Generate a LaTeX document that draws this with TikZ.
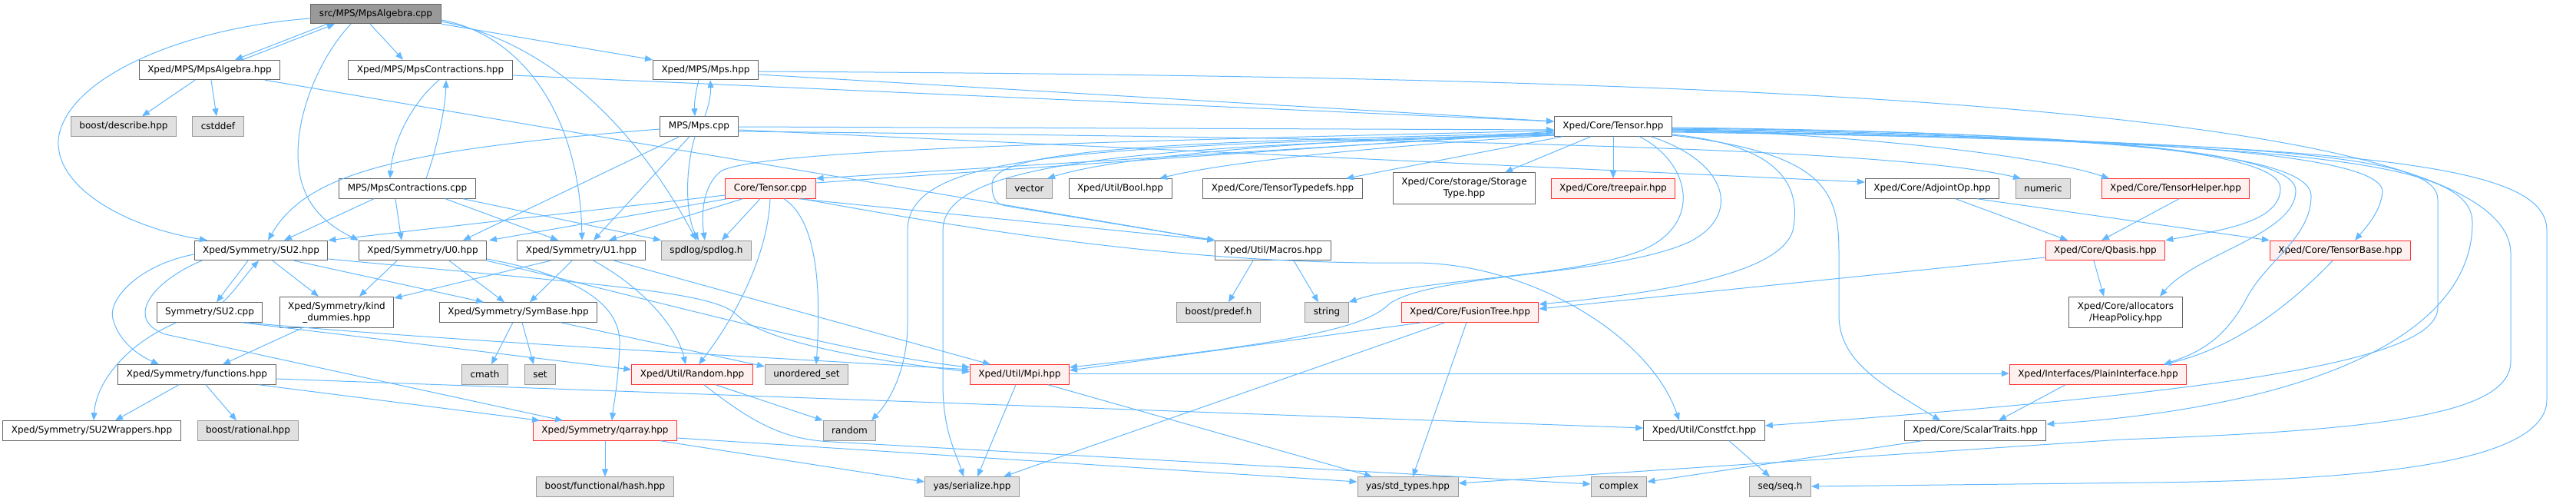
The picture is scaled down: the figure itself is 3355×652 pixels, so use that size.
\documentclass[tikz,border=0pt]{standalone}
\usepackage{fontspec}
\setmainfont{DejaVu Sans}
\usepackage{tikz}
\usetikzlibrary{arrows.meta}
\usepackage{xcolor}
\definecolor{edgeblue}{HTML}{63B8FF}
\definecolor{boxline}{HTML}{666666}
\definecolor{sysline}{HTML}{999999}
\definecolor{sysfill}{HTML}{E0E0E0}
\definecolor{badfill}{HTML}{FFF0F0}
\definecolor{badline}{HTML}{FF3030}
\definecolor{rootfill}{HTML}{999999}

\begin{document}
\begin{tikzpicture}[>={Triangle[length=10pt,width=8pt]},x=1pt,y=-1pt,
  file/.style={draw=boxline,fill=white,line width=1pt,inner xsep=11pt,inner ysep=0pt,
    minimum height=25.5pt,align=center,font=\fontsize{12}{15}\selectfont},
  sys/.style={file,draw=sysline,fill=sysfill},
  bad/.style={file,draw=badline,fill=badfill},
  hi/.style={file,fill=rootfill},
  tall/.style={minimum height=40.5pt},
  dep/.style={->,draw=edgeblue,line width=1pt}]
\useasboundingbox (0,0) rectangle (3355,652);

\node[hi] (alg) at (489.5,18) {src/MPS/MpsAlgebra.cpp};
\node[file] (algh) at (273,91) {Xped/MPS/MpsAlgebra.hpp};
\node[file] (conh) at (560.5,91) {Xped/MPS/MpsContractions.hpp};
\node[file] (mpsh) at (919,91) {Xped/MPS/Mps.hpp};
\node[sys] (desc) at (161,164.5) {boost/describe.hpp};
\node[sys] (cdef) at (284,164.5) {cstddef};
\node[file] (mpsc) at (910.5,164.5) {MPS/Mps.cpp};
\node[file] (tens) at (2101,164.5) {Xped/Core/Tensor.hpp};
\node[file] (conc) at (530.5,245.5) {MPS/MpsContractions.cpp};
\node[bad] (tenc) at (1003.5,245.5) {Core/Tensor.cpp};
\node[sys] (vec) at (1340.5,245.5) {vector};
\node[file] (boolh) at (1459,245.5) {Xped/Util/Bool.hpp};
\node[file] (tdef) at (1670.5,245.5) {Xped/Core/TensorTypedefs.hpp};
\node[file,tall] (stor) at (1907,245) {Xped/Core/storage/Storage\\Type.hpp};
\node[bad] (tpair) at (2101,245.5) {Xped/Core/treepair.hpp};
\node[file] (adj) at (2516.5,245.5) {Xped/Core/AdjointOp.hpp};
\node[sys] (num) at (2661,245.5) {numeric};
\node[bad] (help) at (2833.5,245.5) {Xped/Core/TensorHelper.hpp};
\node[file] (su2h) at (340,326) {Xped/Symmetry/SU2.hpp};
\node[file] (u0h) at (550.5,326) {Xped/Symmetry/U0.hpp};
\node[file] (u1h) at (757,326) {Xped/Symmetry/U1.hpp};
\node[sys] (spd) at (920,326) {spdlog/spdlog.h};
\node[file] (macr) at (1658,326) {Xped/Util/Macros.hpp};
\node[bad] (qb) at (2742,326) {Xped/Core/Qbasis.hpp};
\node[bad] (tb) at (3048,326) {Xped/Core/TensorBase.hpp};
\node[file] (su2c) at (273,406.5) {Symmetry/SU2.cpp};
\node[file,tall] (kind) at (438.5,406.5) {Xped/Symmetry/kind\\\_dummies.hpp};
\node[file] (symb) at (675,406.5) {Xped/Symmetry/SymBase.hpp};
\node[sys] (pred) at (1587,406.5) {boost/predef.h};
\node[sys] (str) at (1728,406.5) {string};
\node[bad] (fus) at (1914.5,406.5) {Xped/Core/FusionTree.hpp};
\node[file,tall] (heap) at (2768.5,406.5) {Xped/Core/allocators\\/HeapPolicy.hpp};
\node[file] (func) at (256.5,487.5) {Xped/Symmetry/functions.hpp};
\node[sys] (cmath) at (631.5,487.5) {cmath};
\node[sys] (setn) at (703.5,487.5) {set};
\node[bad] (rndh) at (901.5,487.5) {Xped/Util/Random.hpp};
\node[sys] (uset) at (1050.5,487.5) {unordered\_set};
\node[bad] (mpi) at (1328,487.5) {Xped/Util/Mpi.hpp};
\node[bad] (plain) at (2732.5,487.5) {Xped/Interfaces/PlainInterface.hpp};
\node[file] (wrap) at (119.5,560.5) {Xped/Symmetry/SU2Wrappers.hpp};
\node[sys] (rat) at (323,560.5) {boost/rational.hpp};
\node[bad] (qarr) at (788,560.5) {Xped/Symmetry/qarray.hpp};
\node[sys] (rnd) at (1106.5,560.5) {random};
\node[file] (cfct) at (2219.5,560.5) {Xped/Util/Constfct.hpp};
\node[file] (scal) at (2572.5,560.5) {Xped/Core/ScalarTraits.hpp};
\node[sys] (hash) at (788,633.5) {boost/functional/hash.hpp};
\node[sys] (ser) at (1266,633.5) {yas/serialize.hpp};
\node[sys] (stdt) at (1833.5,633.5) {yas/std\_types.hpp};
\node[sys] (cplx) at (2108.5,633.5) {complex};
\node[sys] (seq) at (2318.5,633.5) {seq/seq.h};

\draw[dep] (alg.south -| 426,0) -- (algh.north -| 306,0);
\draw[dep] (algh.north -| 316,0) -- (alg.south -| 436,0);
\draw[dep] (alg.south -| 482,0) -- (conh.north -| 525,0);
\draw[dep] (alg.south -| 575,0) -- (mpsh.north west);
\draw[dep] (alg.west |- 0,24) .. controls (250,35) and (95,95) .. (77,175) .. controls (65,240) and (160,295) .. (su2h.north -| 270,0);
\draw[dep] (alg.south -| 457,0) .. controls (420,70) and (388,140) .. (388,200) .. controls (388,260) and (420,290) .. (u0h.north -| 467,0);
\draw[dep] (alg.east |- 0,26) .. controls (680,45) and (755,150) .. (u1h.north -| 758,0);
\draw[dep] (alg.east |- 0,28) .. controls (700,50) and (820,150) .. (spd.north -| 907,0);
\draw[dep] (algh.south -| 254,0) -- (desc.north -| 185,0);
\draw[dep] (algh.south -| 275,0) -- (cdef.north -| 282,0);
\draw[dep] (algh.south -| 345,0) -- (macr.north west);
\draw[dep] (conh.south -| 572,0) .. controls (540,130) and (512,180) .. (conc.north -| 508,0);
\draw[dep] (conc.north -| 555,0) .. controls (570,190) and (580,140) .. (conh.south -| 581,0);
\draw[dep] (conh.east |- 0,98) -- (tens.west |- 0,158);
\draw[dep] (mpsh.south -| 910,0) .. controls (906,120) and (904,135) .. (mpsc.north -| 905,0);
\draw[dep] (mpsc.north -| 918,0) .. controls (924,135) and (926,120) .. (mpsh.south -| 925,0);
\draw[dep] (mpsh.east |- 0,97) -- (tens.west |- 0,158);
\draw[dep] (mpsh.east |- 0,93) .. controls (2200,100) and (3270,130) .. (3270,330) -- (3270,470) .. controls (3270,540) and (3100,560) .. (2763,572) -- (stdt.east |- 0,629);
\draw[dep] (mpsc.east |- 0,165) -- (tens.west |- 0,169);
\draw[dep] (mpsc.east |- 0,169) -- (adj.west |- 0,237);
\draw[dep] (mpsc.east |- 0,171) .. controls (1800,180) and (2450,190) .. (num.north -| 2632,0);
\draw[dep] (mpsc.west |- 0,168) .. controls (520,195) and (400,225) .. (su2h.north -| 349,0);
\draw[dep] (mpsc.south -| 885,0) -- (u0h.north -| 603,0);
\draw[dep] (mpsc.south -| 898,0) -- (u1h.north -| 773,0);
\draw[dep] (mpsc.south -| 905,0) .. controls (890,230) and (895,285) .. (spd.north -| 910,0);
\draw[dep] (conc.south -| 487,0) -- (su2h.north -| 370,0);
\draw[dep] (conc.south -| 515,0) -- (u0h.north -| 523,0);
\draw[dep] (conc.south -| 580,0) -- (u1h.north -| 727,0);
\draw[dep] (conc.south -| 603,0) -- (spd.north west);
\draw[dep] (tenc.east |- 0,238) -- (tens.west |- 0,171);
\draw[dep] (tens.west |- 0,173) -- (tenc.north east);
\draw[dep] (tenc.west |- 0,254) -- (su2h.north east);
\draw[dep] (tenc.south -| 947,0) -- (u0h.north -| 637,0);
\draw[dep] (tenc.south -| 967,0) -- (u1h.north -| 793,0);
\draw[dep] (tenc.south -| 990,0) -- (spd.north -| 940,0);
\draw[dep] (tenc.south -| 1003,0) .. controls (1000,330) and (960,410) .. (rndh.north -| 910,0);
\draw[dep] (tenc.south -| 1021,0) .. controls (1070,290) and (1068,400) .. (uset.north -| 1063,0);
\draw[dep] (tenc.south -| 1040,0) -- (macr.north west);
\draw[dep] (tenc.south -| 1045,0) .. controls (1350,315) and (1600,345) .. (1847,342) .. controls (2000,345) and (2150,440) .. (cfct.north -| 2187,0);
\draw[dep] (tens.west |- 0,170) .. controls (1400,185) and (1000,195) .. (940,222) .. controls (915,240) and (913,280) .. (spd.north -| 918,0);
\draw[dep] (tens.west |- 0,175) .. controls (1700,180) and (1450,205) .. (vec.north -| 1364,0);
\draw[dep] (tens.west |- 0,176) .. controls (1800,190) and (1600,210) .. (boolh.north -| 1510,0);
\draw[dep] (tens.south -| 2035,0) -- (tdef.north -| 1753,0);
\draw[dep] (tens.south -| 2072,0) -- (stor.north -| 1960,0);
\draw[dep] (tens.south) -- (tpair.north);
\draw[dep] (tens.west |- 0,173) .. controls (1500,185) and (1292,195) .. (1292,240) .. controls (1292,262) and (1300,266) .. (1310,268) -- (macr.north west);
\draw[dep] (tens.west |- 0,175) .. controls (1400,190) and (1182,200) .. (1182,300) -- (1182,420) .. controls (1182,480) and (1160,520) .. (rnd.north -| 1135,0);
\draw[dep] (tens.west |- 0,176) .. controls (1450,190) and (1228,215) .. (1228,300) -- (1228,500) .. controls (1228,560) and (1245,590) .. (ser.north -| 1255,0);
\draw[dep] (tens.east |- 0,168) .. controls (2400,175) and (2650,200) .. (help.north -| 2747,0);
\draw[dep] (tens.east |- 0,166) .. controls (2700,172) and (2970,195) .. (2970,245) .. controls (2970,290) and (2890,300) .. (qb.north east);
\draw[dep] (tens.east |- 0,167) .. controls (2750,172) and (2990,200) .. (2990,248) .. controls (2990,305) and (2860,330) .. (heap.north -| 2813,0);
\draw[dep] (tens.east |- 0,168) .. controls (2800,175) and (3010,205) .. (3010,255) .. controls (3010,310) and (2950,340) .. (2925,390) .. controls (2895,445) and (2860,460) .. (plain.north -| 2818,0);
\draw[dep] (tens.east |- 0,169) .. controls (2800,178) and (3105,200) .. (3103,250) .. controls (3100,275) and (3085,292) .. (tb.north -| 3067,0);
\draw[dep] (tens.east |- 0,170) .. controls (3000,185) and (3175,205) .. (3175,260) -- (3175,400) .. controls (3175,470) and (2900,510) .. (cfct.east |- 0,554);
\draw[dep] (tens.east |- 0,171) .. controls (3050,185) and (3220,215) .. (3220,290) .. controls (3220,440) and (3000,530) .. (scal.east |- 0,552);
\draw[dep] (tens.east |- 0,172) .. controls (3100,185) and (3317,215) .. (3317,300) -- (3317,520) .. controls (3317,600) and (3100,625) .. (2800,628) -- (seq.east |- 0,633);
\draw[dep] (tens.east |- 0,175) .. controls (2330,190) and (2345,250) .. (2335,300) .. controls (2320,350) and (2200,378) .. (fus.east |- 0,396);
\draw[dep] (tens.east |- 0,176) .. controls (2380,200) and (2395,250) .. (2395,330) -- (2395,410) .. controls (2395,470) and (2450,500) .. (scal.north -| 2527,0);
\draw[dep] (tens.south -| 2135,0) .. controls (2200,210) and (2220,290) .. (2140,325) .. controls (2050,362) and (1850,362) .. (str.north east);
\draw[dep] (tens.south -| 2150,0) .. controls (2250,210) and (2270,280) .. (2200,315) .. controls (2100,360) and (1870,355) .. (1810,395) .. controls (1780,425) and (1700,445) .. (mpi.east |- 0,478);
\draw[dep] (fus.south -| 1852,0) -- (mpi.east |- 0,482);
\draw[dep] (fus.south -| 1882,0) -- (ser.north -| 1307,0);
\draw[dep] (fus.south -| 1910,0) -- (stdt.north -| 1840,0);
\draw[dep] (macr.south -| 1632,0) -- (pred.north -| 1600,0);
\draw[dep] (macr.south -| 1685,0) -- (str.north -| 1717,0);
\draw[dep] (qb.west |- 0,335) -- (fus.east |- 0,402);
\draw[dep] (qb.south -| 2727,0) -- (heap.north -| 2740,0);
\draw[dep] (adj.south -| 2547,0) -- (qb.north -| 2693,0);
\draw[dep] (adj.south -| 2575,0) -- (tb.north west);
\draw[dep] (help.south -| 2838,0) -- (qb.north -| 2737,0);
\draw[dep] (tb.south -| 3038,0) .. controls (2970,410) and (2900,455) .. (plain.north -| 2818,0);
\draw[dep] (plain.south -| 2690,0) -- (scal.north -| 2603,0);
\draw[dep] (cfct.south -| 2252,0) -- (seq.north -| 2305,0);
\draw[dep] (scal.south -| 2503,0) -- (cplx.east |- 0,627);
\draw[dep] (mpi.east |- 0,486) -- (plain.west |- 0,486);
\draw[dep] (su2h.south -| 323,0) -- (su2c.north -| 282,0);
\draw[dep] (su2c.north -| 290,0) .. controls (305,380) and (322,355) .. (su2h.south -| 337,0);
\draw[dep] (su2h.south -| 355,0) -- (kind.north -| 415,0);
\draw[dep] (su2h.west |- 0,331) .. controls (180,345) and (140,390) .. (147,415) .. controls (155,445) and (180,462) .. (func.north -| 207,0);
\draw[dep] (su2h.south -| 263,0) .. controls (200,365) and (160,415) .. (215,435) -- (qarr.north -| 733,0);
\draw[dep] (su2h.south -| 383,0) -- (symb.north -| 630,0);
\draw[dep] (su2h.east |- 0,337) .. controls (800,372) and (930,380) .. (960,410) .. controls (990,440) and (1100,465) .. (mpi.west |- 0,484);
\draw[dep] (su2c.south -| 230,0) .. controls (160,450) and (125,500) .. (wrap.north -| 122,0);
\draw[dep] (su2c.south -| 315,0) -- (rndh.west |- 0,481);
\draw[dep] (su2c.south -| 320,0) .. controls (600,445) and (1000,465) .. (mpi.west |- 0,481);
\draw[dep] (kind.south -| 393,0) -- (func.north -| 290,0);
\draw[dep] (u0h.south -| 517,0) -- (kind.north -| 468,0);
\draw[dep] (u1h.south -| 717,0) -- (kind.east |- 0,388);
\draw[dep] (u0h.south -| 585,0) -- (symb.north -| 657,0);
\draw[dep] (u1h.south -| 745,0) -- (symb.north -| 690,0);
\draw[dep] (u1h.south -| 773,0) .. controls (830,370) and (880,420) .. (rndh.north -| 893,0);
\draw[dep] (u1h.south -| 800,0) -- (mpi.north -| 1290,0);
\draw[dep] (u0h.east |- 0,337) .. controls (760,360) and (810,400) .. (807,450) .. controls (805,500) and (800,520) .. (qarr.north -| 797,0);
\draw[dep] (u0h.south east) .. controls (850,390) and (1100,460) .. (mpi.west |- 0,478);
\draw[dep] (func.south -| 233,0) -- (wrap.north -| 150,0);
\draw[dep] (func.south -| 268,0) -- (rat.north -| 308,0);
\draw[dep] (func.south -| 337,0) -- (qarr.north -| 703,0);
\draw[dep] (func.east |- 0,493) -- (cfct.west |- 0,557);
\draw[dep] (symb.south -| 668,0) -- (cmath.north -| 640,0);
\draw[dep] (symb.south -| 680,0) -- (setn.north -| 695,0);
\draw[dep] (symb.south -| 730,0) -- (uset.west |- 0,477);
\draw[dep] (qarr.south) -- (hash.north);
\draw[dep] (qarr.east |- 0,570) -- (stdt.west |- 0,627);
\draw[dep] (qarr.south -| 860,0) -- (ser.west |- 0,627);
\draw[dep] (rndh.south -| 932,0) -- (rnd.north west);
\draw[dep] (rndh.south -| 917,0) .. controls (980,550) and (1020,572) .. (1083,575) -- (cplx.west |- 0,630);
\draw[dep] (mpi.south -| 1323,0) -- (ser.north -| 1273,0);
\draw[dep] (mpi.south -| 1365,0) -- (stdt.north -| 1787,0);
\end{tikzpicture}
\end{document}
